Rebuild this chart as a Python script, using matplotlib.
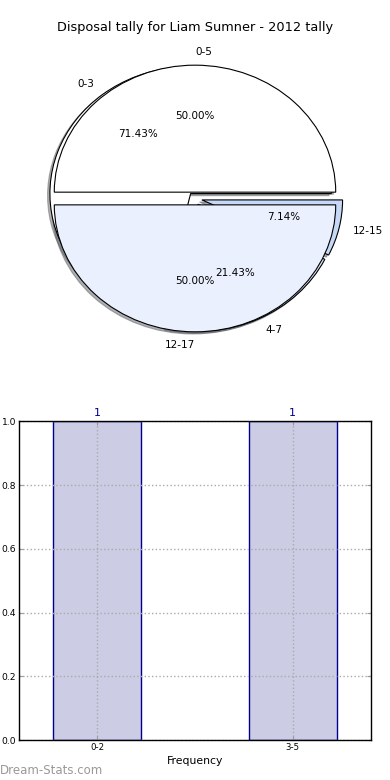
import matplotlib
matplotlib.use("Agg")
import matplotlib.pyplot as plt
import numpy as np

title = "Disposal tally for Liam Sumner - 2012 tally"
pie1_labels = ["0-5", "12-17"]
pie1_values = [1, 1]
pie2_labels = ["0-3", "4-7", "12-15"]
pie2_values = [10, 3, 1]
bar_labels = ["0-2", "3-5"]
bar_values = [1, 1]

pie1_colors = ["#ffffff", "#eaf0fd"]
pie2_colors = ["#ffffff", "#dbe6fa", "#c6d8f6"]

fig = plt.figure(figsize=(3.9, 7.8), dpi=100)
ax1 = fig.add_axes([0.049, 0.542, 0.902, 0.407])
ax2 = fig.add_axes([0.049, 0.051, 0.902, 0.409])

wp = dict(edgecolor="black", linewidth=0.8)
shadow = dict(ox=-0.012, oy=-0.012, shade=0.6)
ax1.pie(pie2_values, labels=pie2_labels, colors=pie2_colors, explode=[0.05] * len(pie2_values),
        autopct="%1.2f%%", shadow=shadow, startangle=0, wedgeprops=wp,
        textprops=dict(fontsize=7.5))
_, t1, _ = ax1.pie(pie1_values, labels=pie1_labels, colors=pie1_colors,
                   explode=[0.05] * len(pie1_values), autopct="%1.2f%%", shadow=shadow,
                   startangle=0, wedgeprops=wp, textprops=dict(fontsize=7.5))
t1[0].set_ha("left")
t1[1].set_ha("right")
ax1.set_aspect("auto")
ax1.set_xlim(-1.25, 1.25)
ax1.set_ylim(-1.25, 1.25)
ax1.set_title(title, fontsize=9.3, pad=6)

x = np.arange(len(bar_values))
bars = ax2.bar(x, bar_values, width=0.45, color="#ccccE5", edgecolor="#000090", linewidth=1)
for xi, v in zip(x, bar_values):
    ax2.text(xi, v + 0.01, str(v), ha="center", va="bottom", color="#000090", fontsize=8)
ax2.set_xlim(-0.4, 1.4)
ax2.set_ylim(0, 1.0)
ax2.set_xticks(x)
ax2.set_xticklabels(bar_labels, fontsize=6.2)
yt = np.arange(0, 1.01, 0.2)
ax2.set_yticks(yt)
ax2.set_yticklabels([f"{t:.1f}" for t in yt], fontsize=6.6)
ax2.tick_params(direction="in", top=True, right=True, length=3, pad=2, color="#999999")
ax2.grid(True, linestyle=":", color="#aaaaaa", linewidth=1)
ax2.set_xlabel("Frequency", fontsize=7.8, labelpad=3)
for s in ax2.spines.values():
    s.set_linewidth(1)
    s.set_zorder(5)

fig.text(0.0, 0.004, "Dream-Stats.com", fontsize=8.5, color="#999999", ha="left", va="bottom")

fig.savefig("out.png", dpi=100)
